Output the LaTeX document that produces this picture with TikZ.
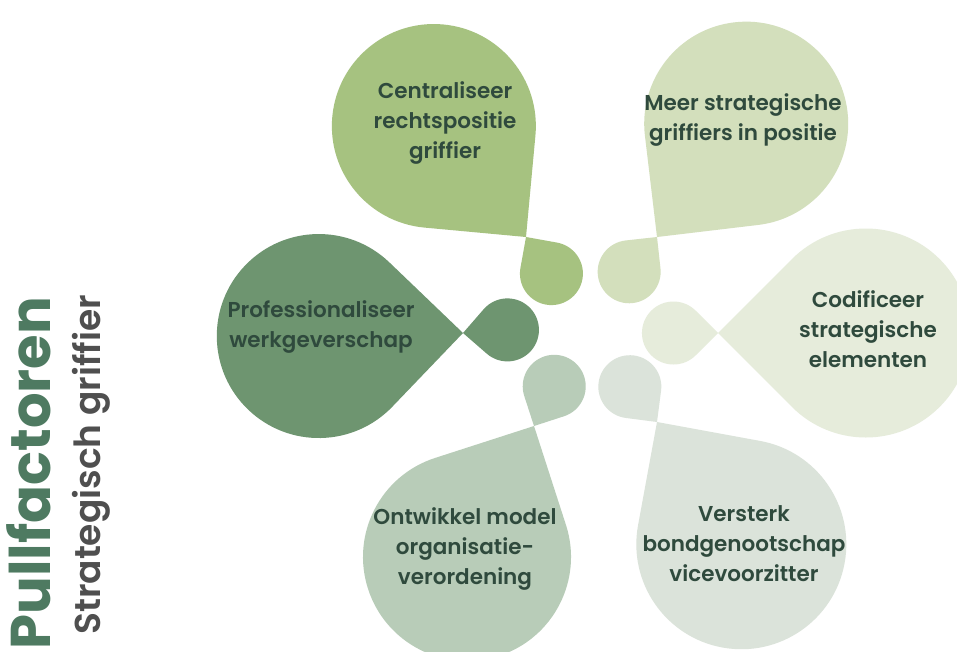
\documentclass[tikz,border=0pt]{standalone}
\usepackage{fontspec}
\setmainfont{Poppins}
\newfontfamily\pmed{Poppins Medium}
\newfontfamily\psemi{Poppins SemiBold}
\usetikzlibrary{calc}
\definecolor{cTL}{HTML}{A6C280}
\definecolor{cTR}{HTML}{D3DFBC}
\definecolor{cR}{HTML}{E6ECDB}
\definecolor{cL}{HTML}{6E9570}
\definecolor{cBL}{HTML}{B8CCB8}
\definecolor{cBR}{HTML}{DBE3DA}
\definecolor{txt}{HTML}{2F4A3D}
\definecolor{ttl}{HTML}{4E7A61}
\definecolor{subt}{HTML}{4F4F4F}
% teardrop: tip coordinate, angle (centre -> tip), radius, colour
\newcommand\drop[4]{%
  \fill[#4] (#1) ++({#2+180}:{#3*1.41421}) ++({#2+45}:#3)
    arc[start angle={#2+45}, end angle={#2+315}, radius=#3] -- (#1) -- cycle;}
\tikzset{
  lbl/.style={text=txt, align=center, font=\psemi\fontsize{21.5}{30}\selectfont},
}
\begin{document}
\begin{tikzpicture}[x=1pt,y=-1pt]
\useasboundingbox (0,0) rectangle (957,651);
\fill[white] (0,0) rectangle (957,651);
\coordinate (tTL) at (526,237);
\coordinate (tTR) at (657,237);
\coordinate (tR) at (718,333);
\coordinate (tL) at (463,333);
\coordinate (tBL) at (534,426);
\coordinate (tBR) at (657,422);
\begin{scope}
\clip (0,0) rectangle (957,651);
\drop{tTL}{50.3}{102}{cTL}
\drop{tTL}{235.2}{31.5}{cTL}
\drop{tTR}{128.2}{102}{cTR}
\drop{tTR}{-51.3}{31.5}{cTR}
\drop{tR}{180}{104.5}{cR}
\drop{tR}{0}{31.5}{cR}
\drop{tL}{-1.2}{102}{cL}
\drop{tL}{176}{31.5}{cL}
\drop{tBL}{-62.9}{104}{cBL}
\drop{tBL}{117}{31.5}{cBL}
\drop{tBR}{-124.6}{105}{cBR}
\drop{tBR}{52.4}{31.5}{cBR}
\end{scope}
\node[lbl] (nTL) at (445,123) {Centraliseer\\rechtspositie\\griffier};
\node[lbl] (nTR) at (743,120) {Meer strategische\\griffiers in positie};
\node[lbl] (nR) at (868,329) {Codificeer\\strategische\\elementen};
\node[lbl] (nL) at (321,327) {Professionaliseer\\werkgeverschap};
\node[lbl] (nBL) at (465,549) {Ontwikkel model\\organisatie-\\verordening};
\node[lbl] (nBR) at (744,544) {Versterk\\bondgenootschap\\vicevoorzitter};
\node[rotate=90, anchor=base, text=ttl, font=\bfseries\fontsize{56}{60}\selectfont] (title) at (50,473) {Pullfactoren};
\node[rotate=90, anchor=base, text=subt, font=\psemi\fontsize{36}{40}\selectfont] (subtitle) at (100,465) {Strategisch griffier};
\end{tikzpicture}
\end{document}
